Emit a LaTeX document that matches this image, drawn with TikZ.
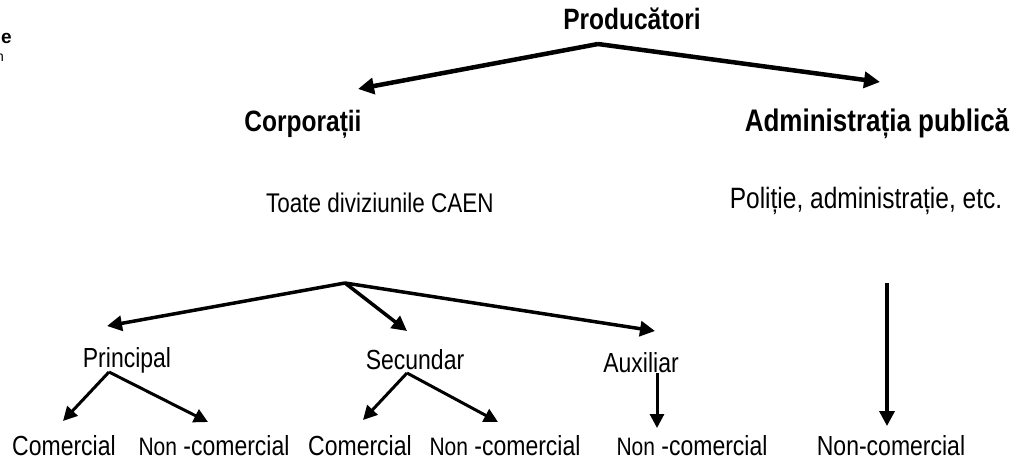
\documentclass[tikz,border=0pt]{standalone}
\usepackage{fontspec}
\usepackage{graphicx}
\setmainfont{Liberation Sans}
\usetikzlibrary{arrows.meta}
\newcommand{\stretchtxt}[1]{\scalebox{1}[1.2]{#1}}
\newcommand{\smallnon}{{\fontsize{21}{24}\selectfont Non}}
\begin{document}
\begin{tikzpicture}[x=1pt,y=-1pt,
  lbl/.style={inner sep=0pt,font=\fontsize{23}{26}\selectfont},
  blbl/.style={inner sep=0pt,font=\fontsize{24.5}{28}\selectfont\bfseries},
  bigarr/.style={line width=4.5pt,-{Triangle[length=16pt,width=16pt]}},
  midarr/.style={line width=3.5pt,-{Triangle[length=15pt,width=15pt]}},
  smallarr/.style={line width=3pt,-{Triangle[length=14pt,width=14pt]}}]
\useasboundingbox (0,0) rectangle (1022,464);
\clip (0,0) rectangle (1022,464);
% cropped fragments at the left edge
\node[anchor=east,inner sep=0pt,font=\fontsize{19}{20}\selectfont\bfseries] (frag1) at (12,38) {e};
\node[anchor=east,inner sep=0pt,font=\fontsize{14}{16}\selectfont] (frag2) at (4,58) {n};
% texts
\node[blbl] (prod) at (632,19) {\stretchtxt{Producători}};
\node[blbl] (corp) at (303,124) {\stretchtxt{Corporații}};
\node[blbl,font=\fontsize{26}{28}\selectfont\bfseries] (adm) at (877,124) {\stretchtxt{Administrația publică}};
\node[lbl,font=\fontsize{22.5}{26}\selectfont] (caen) at (380,203) {\stretchtxt{Toate diviziunile CAEN}};
\node[lbl,font=\fontsize{24.5}{26}\selectfont] (pol) at (866,201) {\stretchtxt{Poliție, administrație, etc.}};
\node[lbl] (princ) at (127,360) {\stretchtxt{Principal}};
\node[lbl] (sec) at (415,360) {\stretchtxt{Secundar}};
\node[lbl] (aux) at (641,363) {\stretchtxt{Auxiliar}};
\node[lbl] (c1) at (64,446) {\stretchtxt{Comercial}};
\node[lbl] (n1) at (214,446) {\stretchtxt{\smallnon{} -comercial}};
\node[lbl] (c2) at (360,446) {\stretchtxt{Comercial}};
\node[lbl] (n2) at (505,446) {\stretchtxt{\smallnon{} -comercial}};
\node[lbl] (n3) at (692,446) {\stretchtxt{\smallnon{} -comercial}};
\node[lbl] (n4) at (891,446) {\stretchtxt{Non-comercial}};
% connector points
\coordinate (pa) at (598,44);
\coordinate (pl) at (358,89);
\coordinate (pr) at (880,82);
\coordinate (ca) at (345,283);
\coordinate (cl) at (107,326);
\coordinate (cm) at (407,331);
\coordinate (cr) at (655,331);
\coordinate (pra) at (109,372);
\coordinate (prl) at (63,421);
\coordinate (prr) at (208,422);
\coordinate (sa) at (407,373);
\coordinate (sl) at (363,420);
\coordinate (sr) at (498,422);
\coordinate (aa) at (657,373);
\coordinate (ab) at (657,428);
\coordinate (da) at (887,283);
\coordinate (db) at (887,426);
% arrows
\draw[bigarr] (pa) -- (pl);
\draw[bigarr] (pa) -- (pr);
\draw[midarr] (ca) -- (cl);
\draw[midarr] (ca) -- (cm);
\draw[midarr] (ca) -- (cr);
\draw[smallarr] (pra) -- (prl);
\draw[smallarr] (pra) -- (prr);
\draw[smallarr] (sa) -- (sl);
\draw[smallarr] (sa) -- (sr);
\draw[smallarr] (aa) -- (ab);
\draw[midarr] (da) -- (db);
\end{tikzpicture}
\end{document}
